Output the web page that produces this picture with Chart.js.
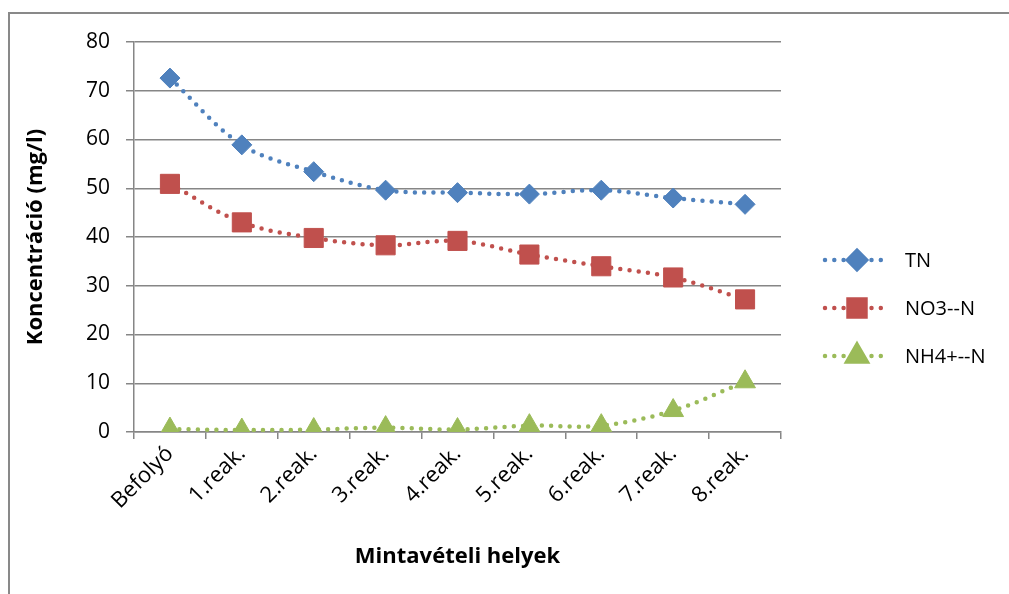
<!DOCTYPE html>
<html>
<head>
<meta charset="utf-8">
<script src="https://cdn.jsdelivr.net/npm/chart.js@4.4.0/dist/chart.umd.min.js"></script>
<style>
html,body{margin:0;padding:0;background:#fff;}
#wrap{width:1009px;height:594px;position:relative;}
</style>
</head>
<body>
<div id="wrap"><canvas id="c" width="1009" height="594"></canvas></div>
<script>
const categories = ["Befolyó","1.reak.","2.reak.","3.reak.","4.reak.","5.reak.","6.reak.","7.reak.","8.reak."];
const tnValues  = [72.6, 58.9, 53.4, 49.6, 49.1, 48.8, 49.6, 48.0, 46.7];
const no3Values = [50.9, 43.0, 39.8, 38.3, 39.2, 36.4, 34.0, 31.7, 27.2];
const nh4Values = [0.6, 0.4, 0.5, 0.9, 0.5, 1.3, 1.3, 4.4, 10.3];
const seriesNames = ["TN", "NO3--N", "NH4+--N"];
const yTicks = [0, 10, 20, 30, 40, 50, 60, 70, 80];

const FONT = "'Open Sans', sans-serif";
const colors = ["#4F81BD", "#C0504D", "#9BBB59"];
const styles = ["rectRot", "rect", "triangle"];
const radii = [10, 13.5, 12];

function ds(label, data, i) {
  return {
    label: label, data: data,
    borderColor: colors[i], backgroundColor: colors[i],
    pointBackgroundColor: colors[i], pointBorderColor: colors[i],
    pointStyle: styles[i], pointRadius: radii[i], pointHoverRadius: radii[i],
    pointBorderWidth: 1,
    borderWidth: 4.5, borderDash: [0, 9.3], borderCapStyle: 'round',
    tension: 0.35, fill: false
  };
}

const framePlugin = {
  id: 'frame',
  beforeDraw(chart) {
    const ctx = chart.ctx;
    ctx.save();
    ctx.fillStyle = '#fff';
    ctx.fillRect(0, 0, chart.width, chart.height);
    ctx.strokeStyle = '#898989';
    ctx.lineWidth = 2;
    ctx.beginPath();
    ctx.moveTo(9, 594);
    ctx.lineTo(9, 13);
    ctx.lineTo(1009, 13);
    ctx.stroke();
    ctx.restore();
  }
};

const legendPlugin = {
  id: 'customLegend',
  afterDraw(chart) {
    const ctx = chart.ctx;
    const rows = [260, 308, 356];
    ctx.save();
    chart.data.datasets.forEach((d, i) => {
      const y = rows[i];
      ctx.strokeStyle = colors[i];
      ctx.lineWidth = 4.5;
      ctx.lineCap = 'round';
      ctx.setLineDash([0, 9.3]);
      ctx.beginPath();
      ctx.moveTo(825, y);
      ctx.lineTo(886, y);
      ctx.stroke();
      ctx.setLineDash([]);
      Chart.helpers.drawPoint(ctx, {pointStyle: styles[i], radius: i === 1 ? 12 : radii[i] - 1, borderWidth: 1, rotation: 0}, 857, y);
      ctx.fillStyle = colors[i];
      ctx.fill();
      ctx.fillStyle = '#000';
      ctx.font = "20px " + FONT;
      ctx.textAlign = 'left';
      ctx.textBaseline = 'middle';
      ctx.fillText(d.label, 905, y + 1);
    });
    ctx.restore();
  }
};

new Chart(document.getElementById('c'), {
  type: 'line',
  data: {
    labels: categories,
    datasets: [ds(seriesNames[0], tnValues, 0), ds(seriesNames[1], no3Values, 1), ds(seriesNames[2], nh4Values, 2)]
  },
  options: {
    responsive: false,
    animation: false,
    layout: { padding: { top: 42, left: 0, right: 228, bottom: 0 } },
    plugins: { legend: { display: false }, tooltip: { enabled: false } },
    scales: {
      x: {
        offset: true,
        grid: { offset: true, drawOnChartArea: false, drawTicks: true, tickLength: 7, color: '#868686', lineWidth: 1.5 },
        border: { color: '#868686', width: 1.5 },
        ticks: { color: '#000', font: { family: FONT, size: 22 }, maxRotation: 45, minRotation: 45, padding: 2 },
        title: { display: true, text: 'Mintavételi helyek', color: '#000', font: { family: FONT, size: 22, weight: 'bold' }, padding: { top: 0, bottom: 24 } },
        afterFit(s) { s.height = 162; }
      },
      y: {
        min: 0, max: 80,
        afterBuildTicks(s) { s.ticks = yTicks.map(v => ({ value: v })); },
        grid: { color: '#868686', lineWidth: 1.5, tickLength: 8 },
        border: { color: '#868686', width: 1.5 },
        ticks: { color: '#000', font: { family: FONT, size: 21 }, padding: 16 },
        title: { display: true, text: 'Koncentráció (mg/l)', color: '#000', font: { family: FONT, size: 22, weight: 'bold' }, padding: { top: 23, bottom: 0 } },
        afterFit(s) { s.width = 134; }
      }
    }
  },
  plugins: [framePlugin, legendPlugin]
});
</script>
</body>
</html>
